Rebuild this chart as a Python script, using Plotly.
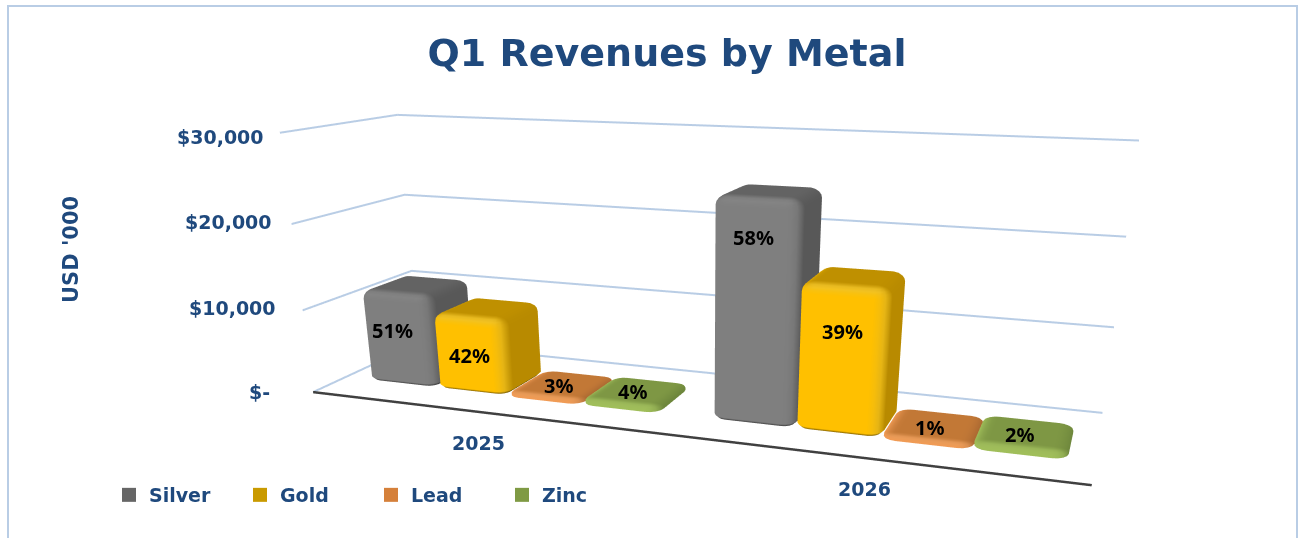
import numpy as np
import plotly.graph_objects as go

categories = ["2025", "2026"]
silver = [11400, 24800]
gold = [9300, 16300]
lead = [590, 500]
zinc = [790, 830]
silver_pct = ["51%", "58%"]
gold_pct = ["42%", "39%"]
lead_pct = ["3%", "1%"]
zinc_pct = ["4%", "2%"]
ticks = [0, 10000, 20000, 30000]
tick_labels = ["$-", "$10,000", "$20,000", "$30,000"]

# Scene set-up. The figure is taller than the window (overflow is hidden) because
# Plotly's field of view is tied to the scene height.
H = 1000
CX = 700
EYE = dict(x=1.0118, y=-2.8328, z=0.6407)
CENTER = dict(x=0.1834, y=-0.4986, z=-0.3894)
UP = dict(x=-0.0025, y=-0.0107, z=1.0)
ASPECT = dict(x=2, y=0.5238, z=0.6677)

BAR_W = 0.215
GAP = 0.08
Y0, Y1 = 0.25, 0.70
RX, RY, RZ = 0.035, 0.08, 1100

def shade(n, st):
    nx, ny, nz = n
    wf, wt, wr = max(-ny, 0)**2, max(nz, 0)**2, max(nx, 0)**2
    wl, wb = max(-nx, 0)**2, max(ny, 0)**2
    col = wf*st["front"] + wt*st["top"] + wr*st["right"] + wl*st["front"] + wb*st["top"]
    rim = min(1, 2.0*wf*wt + 1.2*wf*wr)
    col = col*(1-rim) + rim*st["rim"]
    return "rgb(%d,%d,%d)" % tuple(col.round())

def box(x0, x1, y0, y1, h, st, off):
    rz = min(RZ, h*0.45)
    rings = []
    for t in (np.pi/2*np.array([-1, -.5, 0])):
        rings.append((np.cos(t)*0.9+0.1, rz*0.5+rz*0.5*np.sin(t), t))
    for t in np.linspace(0, np.pi/2, 6):
        rings.append((np.cos(t), h-rz+rz*np.sin(t), t))
    corners = [(x1-RX, y0+RY, -90, 0), (x1-RX, y1-RY, 0, 90), (x0+RX, y1-RY, 90, 180), (x0+RX, y0+RY, 180, 270)]
    V, C, I = [], [], []
    for (rc, z, t) in rings:
        for (ccx, ccy, a0, a1) in corners:
            for a in np.radians(np.linspace(a0, a1, 5)):
                V.append((ccx+RX*rc*np.cos(a), ccy+RY*rc*np.sin(a), z))
                C.append(shade((np.cos(t)*np.cos(a), np.cos(t)*np.sin(a), np.sin(t)), st))
    m = 20
    nr = len(rings)
    for r in range(nr-1):
        for q in range(m):
            a, bb = r*m+q, r*m+(q+1) % m
            cc, d = (r+1)*m+q, (r+1)*m+(q+1) % m
            I += [(a, bb, d), (a, d, cc)]
    V.append(((x0+x1)/2, (y0+y1)/2, h)); C.append(shade((0, 0, 1), st))
    ci = len(V)-1
    for q in range(m):
        I.append(((nr-1)*m+q, (nr-1)*m+(q+1) % m, ci))
    return V, C, [(i+off, j+off, k+off) for i, j, k in I]

def st(front, top, right, rim):
    return dict(front=np.array(front, float), top=np.array(top, float), right=np.array(right, float), rim=np.array(rim, float))

series = [
    ("Silver", silver, silver_pct, st((127,127,127), (99,99,99), (88,88,88), (150,150,150)), "#666666"),
    ("Gold", gold, gold_pct, st((255,192,0), (191,144,0), (184,138,0), (255,217,70)), "#C99A00"),
    ("Lead", lead, lead_pct, st((240,155,85), (194,120,54), (170,105,50), (245,170,105)), "#D5803A"),
    ("Zinc", zinc, zinc_pct, st((160,190,90), (126,151,68), (110,135,60), (170,200,100)), "#7F9A44"),
]
LABEL_SHIFT = {("Silver",0):(-4,10), ("Gold",0):(2,0), ("Lead",0):(-6,-3), ("Zinc",0):(-6,-2),
               ("Silver",1):(0,78), ("Gold",1):(3,31), ("Lead",1):(-6,-4), ("Zinc",1):(-6,-4)}
TICK_SHIFT = {0:(-41,0), 10000:(-25,2), 20000:(-18,2), 30000:(-14,-4)}

fig = go.Figure()
FONT = "DejaVu Sans"
NAVY = "#1F497D"
annos = []
for z in ticks:
    fig.add_trace(go.Scatter3d(x=[0,0,2], y=[0,1,1], z=[z,z,z], mode="lines",
                  line=dict(color="#B9CDE5", width=4), showlegend=False, hoverinfo="skip"))
fig.add_trace(go.Scatter3d(x=[0,2], y=[0,0], z=[0,0], mode="lines",
              line=dict(color="#404040", width=5), showlegend=False, hoverinfo="skip"))
for si, (name, vals, pct, style, lg) in enumerate(series):
    V, C, I = [], [], []
    for ci, v in enumerate(vals):
        x0 = ci+GAP+si*BAR_W
        a, cc, tri = box(x0, x0+BAR_W, Y0, Y1, v, style, len(V))
        V += a; C += cc; I += tri
        sx, sy = LABEL_SHIFT[(name,ci)]
        annos.append(dict(x=x0+BAR_W/2, y=Y0 if v > 2000 else 0.5, z=v/2 if v > 2000 else v, text=pct[ci], showarrow=False,
                          xshift=sx, yshift=sy,
                          font=dict(family="Noto Sans", size=20, color="black", weight="bold")))
    V = np.array(V); I = np.array(I)
    fig.add_trace(go.Mesh3d(x=V[:,0], y=V[:,1], z=V[:,2], i=I[:,0], j=I[:,1], k=I[:,2], vertexcolor=C,
                  flatshading=False, lighting=dict(ambient=1, diffuse=0, specular=0, fresnel=0, roughness=1),
                  name=name, showlegend=False, hovertemplate=name+"<extra></extra>"))
    fig.add_trace(go.Scatter3d(x=[None], y=[None], z=[None], mode="markers", name=name,
                  marker=dict(symbol="square", size=14, color=lg)))
for z, t in zip(ticks, tick_labels):
    sx, sy = TICK_SHIFT[z]
    annos.append(dict(x=0, y=0, z=z, text=t, showarrow=False, xanchor="right", xshift=sx, yshift=sy,
                      font=dict(family=FONT, size=19, color=NAVY, weight="bold")))
for i, t in enumerate(categories):
    annos.append(dict(x=i+0.5, y=0, z=0, text=t, showarrow=False, yshift=-31,
                      font=dict(family=FONT, size=19, color=NAVY, weight="bold")))
noax = dict(showgrid=False, showticklabels=False, showline=False, zeroline=False, showspikes=False,
            showbackground=False, ticks="", title="")
fig.update_layout(
    width=1298, height=H, margin=dict(l=0, r=0, t=0, b=0), paper_bgcolor="white",
    title=dict(text="Q1 Revenues by Metal", x=667/1298, xanchor="center", y=1-53/H, yanchor="middle",
               font=dict(family=FONT, size=38, color=NAVY, weight="bold")),
    scene=dict(domain=dict(x=[(2*CX-1298)/1298, 1], y=[0, 1]), aspectmode="manual",
               aspectratio=ASPECT,
               xaxis=dict(range=[0,2], **noax), yaxis=dict(range=[0,1], **noax), zaxis=dict(range=[0,30000], **noax),
               camera=dict(eye=EYE, center=CENTER, up=UP, projection=dict(type="perspective")),
               annotations=annos),
    legend=dict(orientation="h", x=109/1298, y=1-495/H, yanchor="middle", entrywidth=86, entrywidthmode="pixels",
                font=dict(family=FONT, size=19, color=NAVY, weight="bold"), bgcolor="rgba(0,0,0,0)"),
    annotations=[dict(text="USD '000", x=71/1298, y=1-250/H, xref="paper", yref="paper", textangle=-90, showarrow=False, xanchor="center", yanchor="middle",
                      font=dict(family=FONT, size=21, color=NAVY, weight="bold"))],
    shapes=[dict(type="rect", xref="paper", yref="paper", x0=8/1298, x1=1297/1298, y0=1-560/H, y1=1-6/H,
                 line=dict(color="#B9CDE5", width=2), layer="below")],
)
fig.write_html("out.html", post_script="document.documentElement.style.overflow='hidden';document.body.style.overflow='hidden';document.body.style.margin='0';document.body.style.height='538px';", config=dict(displayModeBar=False))
